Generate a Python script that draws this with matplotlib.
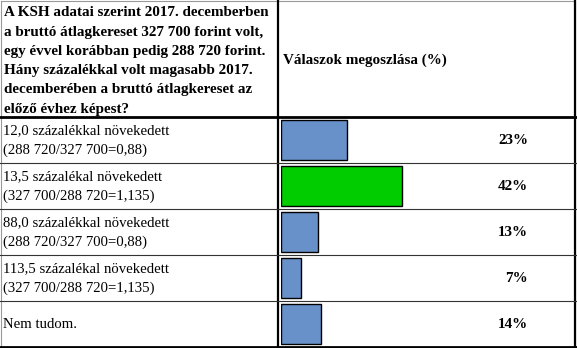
import matplotlib.pyplot as plt

plt.rcParams['font.family'] = ['Liberation Serif', 'DejaVu Serif']

question = ("A KSH adatai szerint 2017. decemberben\n"
            "a bruttó átlagkereset 327 700 forint volt,\n"
            "egy évvel korábban pedig 288 720 forint.\n"
            "Hány százalékkal volt magasabb 2017.\n"
            "decemberében a bruttó átlagkereset az\n"
            "előző évhez képest?")
header_right = "Válaszok megoszlása (%)"
answers = ["12,0 százalékkal növekedett\n(288 720/327 700=0,88)",
           "13,5 százalékal növekedett\n(327 700/288 720=1,135)",
           "88,0 százalékkal növekedett\n(288 720/327 700=0,88)",
           "113,5 százalékal növekedett\n(327 700/288 720=1,135)",
           "Nem tudom."]
shares = [23, 42, 13, 7, 14]
correct = [False, True, False, False, False]

W, H = 577, 348
fig = plt.figure(figsize=(W / 100, H / 100), dpi=100)
ax = fig.add_axes([0, 0, 1, 1])
ax.set_xlim(0, W)
ax.set_ylim(H, 0)
ax.axis('off')

col_x = 278
head_bottom = 117
row_h = 46
n = len(answers)

# table grid
ax.plot([0.5, W - 2, W - 2, 0.5, 0.5], [0.5, 0.5, H - 1.5, H - 1.5, 0.5], color='#999999', lw=0.8)
ax.plot([col_x, col_x], [0, H - 1], color='black', lw=1.6)
ax.plot([W - 2, W - 2], [0, H - 1], color='black', lw=1.6)
ax.plot([0, W], [head_bottom, head_bottom], color='black', lw=2)
ax.plot([0, W], [H - 1.5, H - 1.5], color='black', lw=2)
for i in range(1, n):
    y = head_bottom + i * row_h
    ax.plot([0, W], [y, y], color='#333333', lw=0.8)

ax.text(4, 61, question, fontsize=10.9, fontweight='bold', va='center', ha='left', linespacing=1.62)
ax.text(283, 60, header_right, fontsize=10.9, fontweight='bold', va='center', ha='left')

for i, (txt, v) in enumerate(zip(answers, shares)):
    yc = head_bottom + (i + 0.5) * row_h
    ax.text(3, yc + 1, txt, fontsize=10.6, va='center', ha='left', linespacing=1.6)
    ax.text(528, yc, f"{v}%", fontsize=10.9, fontweight='bold', va='center', ha='right')

# bar column
scale = 2.88  # px per percent
bx0 = 281
bax = fig.add_axes([bx0 / W, (H - head_bottom - n * row_h) / H, 150 / W, n * row_h / H])
bax.set_xlim(0, 150 / scale)
bax.set_ylim(n - 0.5, -0.5)
colors = ['#00cc00' if c else '#6891c9' for c in correct]
bax.barh(range(n), shares, height=0.89, left=0, color=colors, edgecolor='black', linewidth=1)
bax.axis('off')

fig.savefig("out.png", dpi=100)
